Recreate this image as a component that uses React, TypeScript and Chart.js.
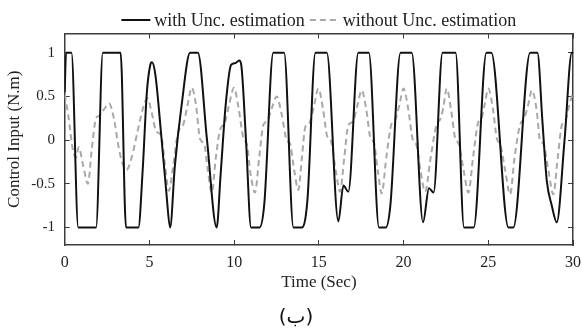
import React, { useEffect, useRef } from "react";
import { Chart, registerables } from "chart.js";

Chart.register(...registerables);

// ---- data ----
const withTime = [
  0, 0.08, 0.4, 0.8, 1.85, 2.25, 3.3, 3.62, 4.35, 4.6, 4.85, 5.05, 5.15, 5.35, 5.7, 6.0, 6.22, 6.5, 6.9, 7.4,
  7.86, 8.4, 8.97, 9.2, 9.5, 9.82, 10.05, 10.3, 10.42, 10.7, 11.0, 11.5, 11.78, 12.31, 12.95, 13.5, 13.99,
  14.32, 14.8, 15.47, 16.15, 16.45, 16.74, 17.33, 17.95, 18.55, 18.95, 19.22, 19.82, 20.48, 21.15, 21.5,
  21.77, 22.3, 23.07, 23.57, 24.14, 24.89, 25.18, 26.19, 26.48, 27.47, 27.9, 28.2, 28.45, 28.75, 29.04,
  29.5, 29.93, 30,
];
const withValue = [
  0.55, 1, 1, -1, -1, 1, 1, -1, -1, -0.35, 0.55, 0.86, 0.89, 0.75, 0.05, -0.6, -1, -0.3, 0.4, 1,
  1, 0, -1, -0.4, 0.4, 0.86, 0.88, 0.91, 0.86, 0, -1, -1, -0.73, 1, 1, -1, -1,
  -0.7, 1, 1, -0.93, -0.52, -0.59, 1, 1, -1, -1, -0.75, 1, 1, -0.94, -0.55,
  -0.6, 1, 1, -1, -1, 1, 1, -1, -1, 1, 1, 0.2, -0.46, -0.75, -0.94,
  0, 1, 1,
];

const withoutTime = [
  0, 0.2, 0.5, 0.68, 0.82, 1.1, 1.37, 1.6, 1.85, 2.05, 2.35, 2.62, 2.9, 3.2, 3.4, 3.65, 3.95, 4.3, 4.6, 4.88,
  5.15, 5.4, 5.7, 5.9, 6.15, 6.4, 6.68, 7.0, 7.25, 7.5, 7.75, 7.98, 8.25, 8.45, 8.68, 8.92, 9.17, 9.45, 9.72,
  9.99, 10.25, 10.55, 10.75, 10.98, 11.23, 11.48, 11.72, 11.95, 12.25, 12.51, 12.8, 13.1, 13.3, 13.55, 13.79,
  14.0, 14.2, 14.45, 14.72, 14.97, 15.25, 15.5, 15.7, 16.0, 16.25, 16.5, 16.74, 17.0, 17.28, 17.53, 17.8,
  18.05, 18.25, 18.48, 18.71, 18.98, 19.28, 19.5, 19.75, 20.0, 20.28, 20.55, 20.75, 21.0, 21.27, 21.6,
  21.95, 22.2, 22.35, 22.55, 22.8, 23.05, 23.25, 23.55, 23.83, 24.1, 24.4, 24.6, 24.8, 25.0, 25.28, 25.5,
  25.72, 26.0, 26.29, 26.55, 26.88, 27.1, 27.35, 27.57, 27.85, 28.05, 28.25, 28.55, 28.84, 29.1, 29.35,
  29.55, 29.75, 30,
];
const withoutValue = [
  0.52, 0.3, -0.13, -0.2, -0.08, -0.3, -0.5, -0.1, 0.25, 0.28, 0.36, 0.42, 0.25, -0.1, -0.26, -0.34, -0.2, 0.1, 0.35, 0.48,
  0.3, 0.1, 0.05, -0.25, -0.58, -0.3, 0.08, 0.18, 0.4, 0.6, 0.4, 0.02, -0.06, -0.35, -0.6, -0.2, 0.12, 0.2, 0.42,
  0.6, 0.38, 0.02, -0.05, -0.4, -0.6, -0.2, 0.17, 0.22, 0.38, 0.5, 0.3, 0.0, -0.04, -0.35, -0.57,
  -0.2, 0.15, 0.2, 0.4, 0.59, 0.35, 0.04, 0.0, -0.35, -0.59, -0.2, 0.17, 0.21, 0.4, 0.57, 0.35,
  0.02, -0.03, -0.35, -0.61, -0.2, 0.18, 0.23, 0.4, 0.59, 0.35, 0.0, -0.05, -0.35, -0.59, -0.2,
  0.18, 0.25, 0.38, 0.59, 0.35, 0.02, -0.04, -0.35, -0.6, -0.2, 0.2, 0.25, 0.42, 0.59, 0.35, 0.02,
  -0.06, -0.35, -0.62, -0.2, 0.18, 0.24, 0.4, 0.57, 0.35, 0.0, -0.04, -0.35, -0.62, -0.2, 0.18,
  0.22, 0.38, 0.55,
];

const seriesLabels = ["with Unc. estimation", "without Unc. estimation"];
const xTicks = [0, 5, 10, 15, 20, 25, 30];
const yTicks = [-1, -0.5, 0, 0.5, 1];
const xTitle = "Time (Sec)";
const yTitle = "Control Input (N.m)";
const caption = "(ب)";

const SERIF = '"Liberation Serif", "Times New Roman", serif';
const AXIS_COLOR = "#3c3c3c";
const TEXT_COLOR = "#222";

const legendPlugin = {
  id: "matlabLegend",
  afterDraw(chart: any) {
    const { ctx, chartArea } = chart;
    ctx.save();
    ctx.font = `18px ${SERIF}`;
    ctx.textBaseline = "middle";
    ctx.textAlign = "left";
    const lineLen = 29;
    const gapText = 4;
    const gapItems = 5;
    const items = chart.data.datasets.map((ds: any) => ({ ds, w: ctx.measureText(ds.label).width }));
    let total = 0;
    items.forEach((it: any, i: number) => {
      total += lineLen + gapText + it.w + (i < items.length - 1 ? gapItems : 0);
    });
    let x = (chartArea.left + chartArea.right) / 2 - total / 2;
    const y = 20;
    items.forEach((it: any) => {
      ctx.beginPath();
      ctx.strokeStyle = it.ds.borderColor;
      ctx.lineWidth = it.ds.borderWidth;
      ctx.setLineDash(it.ds.borderDash || []);
      ctx.moveTo(x, y);
      ctx.lineTo(x + lineLen, y);
      ctx.stroke();
      ctx.setLineDash([]);
      x += lineLen + gapText;
      ctx.fillStyle = TEXT_COLOR;
      ctx.fillText(it.ds.label, x, y + 1);
      x += it.w + gapItems;
    });
    ctx.restore();
  },
};

const captionPlugin = {
  id: "caption",
  afterDraw(chart: any) {
    const { ctx } = chart;
    ctx.save();
    ctx.font = '20px "DejaVu Sans", sans-serif';
    ctx.textAlign = "center";
    ctx.textBaseline = "middle";
    ctx.fillStyle = "#111";
    ctx.fillText(caption, 296, 318);
    ctx.restore();
  },
};

function makeAxis(extra: any) {
  return {
    type: "linear",
    grid: { drawOnChartArea: false, drawTicks: true, tickLength: -5, color: AXIS_COLOR, lineWidth: 1 },
    border: { display: true, color: AXIS_COLOR, width: 1.5 },
    ...extra,
  };
}

export default function App() {
  const canvasRef = useRef<HTMLCanvasElement | null>(null);

  useEffect(() => {
    document.body.style.margin = "0";
    const canvas = canvasRef.current;
    if (!canvas) return;

    const withData = withTime.map((t, i) => ({ x: t, y: withValue[i] }));
    const withoutData = withoutTime.map((t, i) => ({ x: t, y: withoutValue[i] }));

    const chart = new Chart(canvas, {
      type: "line",
      data: {
        datasets: [
          {
            label: seriesLabels[0],
            data: withData,
            borderColor: "#111111",
            backgroundColor: "#111111",
            borderWidth: 2,
            pointRadius: 0,
            cubicInterpolationMode: "monotone",
            borderJoinStyle: "round",
            order: 1,
          },
          {
            label: seriesLabels[1],
            data: withoutData,
            borderColor: "#a9a9a9",
            backgroundColor: "#a9a9a9",
            borderWidth: 2,
            borderDash: [6, 4],
            pointRadius: 0,
            cubicInterpolationMode: "monotone",
            borderJoinStyle: "round",
            order: 2,
          },
        ],
      },
      options: {
        responsive: false,
        animation: false,
        devicePixelRatio: 1,
        layout: { padding: { top: 33.5, right: 0, bottom: 0, left: 0 } },
        plugins: {
          legend: { display: false },
          tooltip: { enabled: false },
        },
        scales: {
          x: makeAxis({
            position: "bottom",
            min: 0,
            max: 30,
            afterBuildTicks: (s: any) => {
              s.ticks = xTicks.map((v) => ({ value: v }));
            },
            afterFit: (s: any) => {
              s.height = 86;
              s.paddingLeft = 0;
              s.paddingRight = 0;
            },
            ticks: {
              font: { family: SERIF, size: 16 },
              color: TEXT_COLOR,
              padding: 13.4,
              maxRotation: 0,
              autoSkip: false,
              callback: (v: any) => String(v),
            },
            title: {
              display: true,
              text: xTitle,
              font: { family: SERIF, size: 17 },
              color: TEXT_COLOR,
              padding: { top: 0, bottom: 37.8 },
            },
          }),
          x2: makeAxis({
            position: "top",
            min: 0,
            max: 30,
            afterBuildTicks: (s: any) => {
              s.ticks = xTicks.map((v) => ({ value: v }));
            },
            afterFit: (s: any) => {
              s.height = 0;
              s.paddingLeft = 0;
              s.paddingRight = 0;
            },
            ticks: { display: false },
          }),
          y: makeAxis({
            position: "left",
            min: -1.2,
            max: 1.22,
            afterBuildTicks: (s: any) => {
              s.ticks = yTicks.map((v) => ({ value: v }));
            },
            afterFit: (s: any) => {
              s.width = 64.7;
            },
            ticks: {
              font: { family: SERIF, size: 15 },
              color: TEXT_COLOR,
              padding: 14.7,
              autoSkip: false,
              callback: (v: any) => String(v),
            },
            title: {
              display: true,
              text: yTitle,
              font: { family: SERIF, size: 17 },
              color: TEXT_COLOR,
              padding: { top: 4.8, bottom: 0 },
            },
          }),
          y2: makeAxis({
            position: "right",
            min: -1.2,
            max: 1.22,
            afterBuildTicks: (s: any) => {
              s.ticks = yTicks.map((v) => ({ value: v }));
            },
            afterFit: (s: any) => {
              s.width = 9;
            },
            ticks: { display: false },
          }),
        },
      },
      plugins: [legendPlugin, captionPlugin],
    } as any);

    return () => {
      chart.destroy();
    };
  }, []);

  return (
    <div style={{ width: 582, height: 331, position: "relative", background: "#fff" }}>
      <canvas ref={canvasRef} width={582} height={331} style={{ display: "block" }} />
    </div>
  );
}
